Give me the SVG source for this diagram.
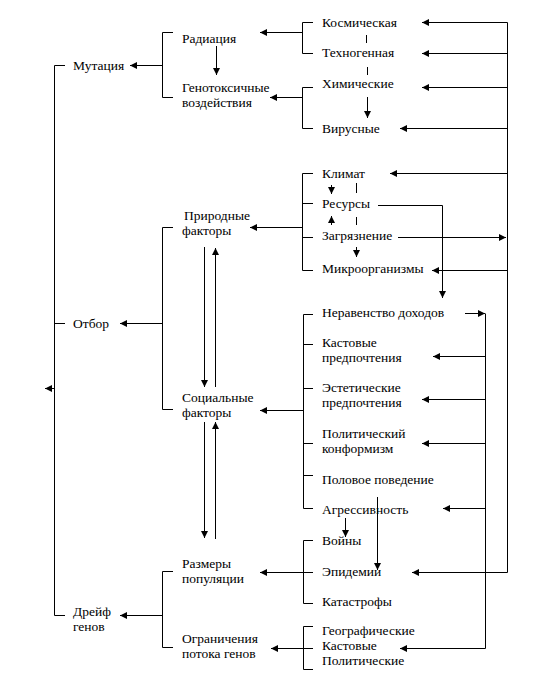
<svg xmlns="http://www.w3.org/2000/svg" width="550" height="690" viewBox="0 0 550 690">
<defs>
<marker id="ah" markerUnits="userSpaceOnUse" markerWidth="8" markerHeight="8" refX="7" refY="3.5" orient="auto">
<path d="M0,0 L7,3.5 L0,7 z" fill="#000"/>
</marker>
<style>
text{font-family:"Times New Roman","Liberation Serif","DejaVu Serif",serif;font-size:13.5px;fill:#000}
.c line,.c path,.c polyline{stroke:#000;stroke-width:1;fill:none}
.a{marker-end:url(#ah)}
</style>
</defs>
<rect width="550" height="690" fill="#fff"/>
<g id="n-mutation"><text x="73" y="70">Мутация</text></g>
<g id="n-otbor"><text x="73" y="328">Отбор</text></g>
<g id="n-drift"><text x="73" y="616">Дрейф</text><text x="73" y="631">генов</text></g>
<g id="n-radiation"><text x="182" y="43">Радиация</text></g>
<g id="n-genotox"><text x="182" y="92">Генотоксичные</text><text x="182" y="107">воздействия</text></g>
<g id="n-nature"><text x="184" y="220">Природные</text><text x="182" y="235">факторы</text></g>
<g id="n-social"><text x="182" y="402">Социальные</text><text x="182" y="417">факторы</text></g>
<g id="n-popsize"><text x="182" y="568">Размеры</text><text x="182" y="583">популяции</text></g>
<g id="n-flow"><text x="182" y="643">Ограничения</text><text x="182" y="658">потока генов</text></g>
<g id="n-kosm"><text x="322" y="27">Космическая</text></g>
<g id="n-tekh"><text x="322" y="57">Техногенная</text></g>
<g id="n-khim"><text x="322" y="88">Химические</text></g>
<g id="n-virus"><text x="322" y="133">Вирусные</text></g>
<g id="n-klimat"><text x="322" y="178">Климат</text></g>
<g id="n-resursy"><text x="322" y="208">Ресурсы</text></g>
<g id="n-zagr"><text x="322" y="240">Загрязнение</text></g>
<g id="n-mikro"><text x="322" y="273">Микроорганизмы</text></g>
<g id="n-nerav"><text x="322" y="317">Неравенство доходов</text></g>
<g id="n-kast"><text x="322" y="347">Кастовые</text><text x="322" y="362">предпочтения</text></g>
<g id="n-estet"><text x="322" y="392">Эстетические</text><text x="322" y="407">предпочтения</text></g>
<g id="n-polit"><text x="322" y="438">Политический</text><text x="322" y="453">конформизм</text></g>
<g id="n-polovoe"><text x="322" y="484">Половое поведение</text></g>
<g id="n-agr"><text x="322" y="514">Агрессивность</text></g>
<g id="n-voiny"><text x="322" y="545">Войны</text></g>
<g id="n-epid"><text x="322" y="576">Эпидемии</text></g>
<g id="n-katas"><text x="322" y="606">Катастрофы</text></g>
<g id="n-geo"><text x="322" y="635">Географические</text></g>
<g id="n-kast2"><text x="322" y="650">Кастовые</text></g>
<g id="n-polit2"><text x="322" y="665">Политические</text></g>
<g id="connectors" class="c">
<polyline points="65,65.5 54.5,65.5 54.5,615.5 65,615.5"/>
<line x1="54.5" y1="323.5" x2="65" y2="323.5"/>
<line class="a" x1="54.5" y1="388.5" x2="45" y2="388.5"/>
<polyline points="173,32.5 162.5,32.5 162.5,97.5 173,97.5"/>
<line class="a" x1="162.5" y1="65.5" x2="130" y2="65.5"/>
<line class="a" x1="216.5" y1="46" x2="216.5" y2="75"/>
<polyline points="173,227.5 162.5,227.5 162.5,409.5 173,409.5"/>
<line class="a" x1="162.5" y1="323.5" x2="120" y2="323.5"/>
<polyline points="173,571.5 162.5,571.5 162.5,647.5 173,647.5"/>
<line class="a" x1="162.5" y1="615.5" x2="120" y2="615.5"/>
<line class="a" x1="204.5" y1="247" x2="204.5" y2="387"/>
<line class="a" x1="215.5" y1="387" x2="215.5" y2="248"/>
<line class="a" x1="204.5" y1="422" x2="204.5" y2="538"/>
<line class="a" x1="215.5" y1="539" x2="215.5" y2="422"/>
<polyline points="313,22.5 302.5,22.5 302.5,53.5 313,53.5"/>
<line class="a" x1="302.5" y1="32.5" x2="260" y2="32.5"/>
<line x1="366.5" y1="35" x2="366.5" y2="43"/>
<line x1="367.5" y1="67" x2="367.5" y2="75"/>
<polyline points="313,87.5 302.5,87.5 302.5,128.5 313,128.5"/>
<line class="a" x1="302.5" y1="97.5" x2="270" y2="97.5"/>
<line class="a" x1="367.5" y1="97" x2="367.5" y2="118"/>
<polyline points="313,173.5 302.5,173.5 302.5,270.5 313,270.5"/>
<line x1="302.5" y1="203.5" x2="313" y2="203.5"/>
<line x1="302.5" y1="237.5" x2="313" y2="237.5"/>
<line class="a" x1="302.5" y1="227.5" x2="250" y2="227.5"/>
<line class="a" x1="331.5" y1="185" x2="331.5" y2="194"/>
<line x1="356.5" y1="183" x2="356.5" y2="193"/>
<line class="a" x1="331.5" y1="225" x2="331.5" y2="216"/>
<line x1="356.5" y1="217" x2="356.5" y2="225"/>
<line class="a" x1="356.5" y1="247" x2="356.5" y2="257"/>
<polyline class="a" points="378,205.5 442.5,205.5 442.5,298"/>
<polyline points="313,314.5 303.5,314.5 303.5,508.5 313,508.5"/>
<line x1="303.5" y1="344.5" x2="313" y2="344.5"/>
<line x1="303.5" y1="388.5" x2="313" y2="388.5"/>
<line x1="303.5" y1="443.5" x2="313" y2="443.5"/>
<line x1="303.5" y1="475.5" x2="313" y2="475.5"/>
<line class="a" x1="303.5" y1="410.5" x2="260" y2="410.5"/>
<line class="a" x1="345.5" y1="518" x2="345.5" y2="537"/>
<line class="a" x1="377.5" y1="497" x2="377.5" y2="570"/>
<polyline points="313,540.5 303.5,540.5 303.5,603.5 313,603.5"/>
<line x1="303.5" y1="572.5" x2="313" y2="572.5"/>
<line class="a" x1="303.5" y1="572.5" x2="260" y2="572.5"/>
<polyline points="313,626.5 303.5,626.5 303.5,669.5 313,669.5"/>
<line x1="303.5" y1="648.5" x2="313" y2="648.5"/>
<line class="a" x1="303.5" y1="648.5" x2="271" y2="648.5"/>
<line x1="507.5" y1="22.5" x2="507.5" y2="572.5"/>
<line class="a" x1="507.5" y1="22.5" x2="422" y2="22.5"/>
<line class="a" x1="507.5" y1="53.5" x2="422" y2="53.5"/>
<line class="a" x1="507.5" y1="87.5" x2="422" y2="87.5"/>
<line class="a" x1="507.5" y1="128.5" x2="400" y2="128.5"/>
<line class="a" x1="507.5" y1="173.5" x2="390" y2="173.5"/>
<line class="a" x1="398" y1="237.5" x2="506" y2="237.5"/>
<line class="a" x1="507.5" y1="270.5" x2="432" y2="270.5"/>
<line class="a" x1="507.5" y1="572.5" x2="412" y2="572.5"/>
<line x1="485.5" y1="313.5" x2="485.5" y2="648.5"/>
<line class="a" x1="465" y1="313.5" x2="485" y2="313.5"/>
<line class="a" x1="485.5" y1="356.5" x2="433" y2="356.5"/>
<line class="a" x1="485.5" y1="399.5" x2="422" y2="399.5"/>
<line class="a" x1="485.5" y1="443.5" x2="422" y2="443.5"/>
<line class="a" x1="485.5" y1="508.5" x2="443" y2="508.5"/>
<line class="a" x1="485.5" y1="648.5" x2="400" y2="648.5"/>
</g>
</svg>
